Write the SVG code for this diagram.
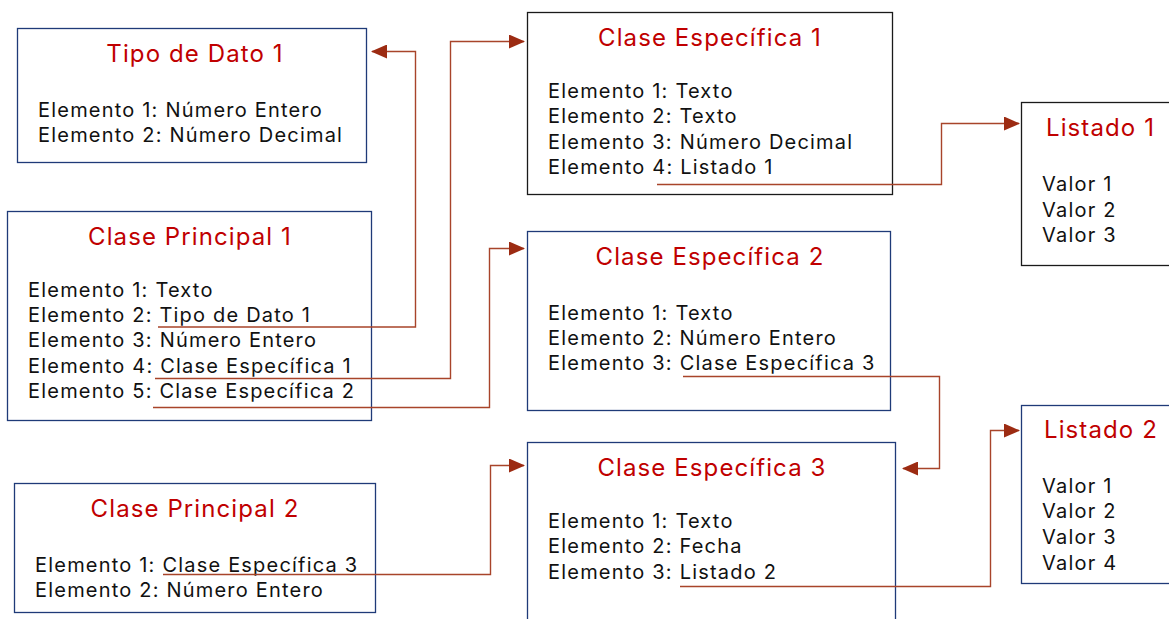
<svg xmlns="http://www.w3.org/2000/svg" width="1169" height="619" viewBox="0 0 1169 619">
<defs>
<style>
.box{fill:#fff;stroke-width:1.3}
.b{stroke:#1f3a78}
.k{stroke:#1a1a1a}
.t{font-family:Inter,"Open Sans",sans-serif;font-size:24px;letter-spacing:1.1px;fill:#c00000;text-anchor:middle}
.e{font-family:Inter,"Open Sans",sans-serif;font-size:20px;letter-spacing:1.2px;fill:#111}
.c{fill:none;stroke:#a8442a;stroke-width:1.4}
</style>
<marker id="ah" markerWidth="16" markerHeight="14" refX="15" refY="7" orient="auto" markerUnits="userSpaceOnUse">
<path d="M0,0 L16,7 L0,14 Z" fill="#9c2b12"/>
</marker>
</defs>
<rect width="1169" height="619" fill="#fff"/>
<g id="tipo-de-dato-1">
<rect class="box b" x="17.5" y="28.5" width="349" height="134"/>
<text class="t" x="195" y="62">Tipo de Dato 1</text>
<text class="e"><tspan x="38" y="117">Elemento 1: Número Entero</tspan><tspan x="38" y="142">Elemento 2: Número Decimal</tspan></text>
</g>
<g id="clase-principal-1">
<rect class="box b" x="7.5" y="211.5" width="364" height="209"/>
<text class="t" x="190" y="245">Clase Principal 1</text>
<text class="e"><tspan x="28" y="297">Elemento 1: Texto</tspan><tspan x="28" y="322">Elemento 2: Tipo de Dato 1</tspan><tspan x="28" y="347">Elemento 3: Número Entero</tspan><tspan x="28" y="373">Elemento 4: Clase Específica 1</tspan><tspan x="28" y="398">Elemento 5: Clase Específica 2</tspan></text>
</g>
<g id="clase-principal-2">
<rect class="box b" x="14.5" y="483.5" width="361" height="129"/>
<text class="t" x="195" y="517">Clase Principal 2</text>
<text class="e"><tspan x="35" y="572">Elemento 1: Clase Específica 3</tspan><tspan x="35" y="597">Elemento 2: Número Entero</tspan></text>
</g>
<g id="clase-especifica-1">
<rect class="box k" x="527.5" y="12.5" width="365" height="182"/>
<text class="t" x="710" y="46">Clase Específica 1</text>
<text class="e"><tspan x="548" y="98">Elemento 1: Texto</tspan><tspan x="548" y="123">Elemento 2: Texto</tspan><tspan x="548" y="149">Elemento 3: Número Decimal</tspan><tspan x="548" y="174">Elemento 4: Listado 1</tspan></text>
</g>
<g id="clase-especifica-2">
<rect class="box b" x="527.5" y="231.5" width="363" height="179"/>
<text class="t" x="710" y="265">Clase Específica 2</text>
<text class="e"><tspan x="548" y="320">Elemento 1: Texto</tspan><tspan x="548" y="345">Elemento 2: Número Entero</tspan><tspan x="548" y="370">Elemento 3: Clase Específica 3</tspan></text>
</g>
<g id="clase-especifica-3">
<rect class="box b" x="527.5" y="442.5" width="368" height="190"/>
<text class="t" x="712" y="476">Clase Específica 3</text>
<text class="e"><tspan x="548" y="528">Elemento 1: Texto</tspan><tspan x="548" y="553">Elemento 2: Fecha</tspan><tspan x="548" y="579">Elemento 3: Listado 2</tspan></text>
</g>
<g id="listado-1">
<rect class="box k" x="1021.5" y="102.5" width="160" height="163"/>
<text class="t" x="1046" y="136" style="text-anchor:start">Listado 1</text>
<text class="e"><tspan x="1042" y="191">Valor 1</tspan><tspan x="1042" y="217">Valor 2</tspan><tspan x="1042" y="242">Valor 3</tspan></text>
</g>
<g id="listado-2">
<rect class="box b" x="1021.5" y="405.5" width="160" height="178"/>
<text class="t" x="1044" y="438" style="text-anchor:start">Listado 2</text>
<text class="e"><tspan x="1042" y="493">Valor 1</tspan><tspan x="1042" y="518">Valor 2</tspan><tspan x="1042" y="544">Valor 3</tspan><tspan x="1042" y="570">Valor 4</tspan></text>
</g>
<g id="connectors">
<path class="c" d="M158,327 H415.5 V51.5 H372" marker-end="url(#ah)"/>
<path class="c" d="M155,378.5 H450.5 V41.5 H524" marker-end="url(#ah)"/>
<path class="c" d="M153,407.5 H489.5 V248.5 H524" marker-end="url(#ah)"/>
<path class="c" d="M657,184.5 H941.5 V123.5 H1019" marker-end="url(#ah)"/>
<path class="c" d="M683,376.5 H939.5 V468.5 H903" marker-end="url(#ah)"/>
<path class="c" d="M163,574.5 H490.5 V465.5 H524" marker-end="url(#ah)"/>
<path class="c" d="M680,586.5 H990.5 V430.5 H1019" marker-end="url(#ah)"/>
</g>
</svg>
